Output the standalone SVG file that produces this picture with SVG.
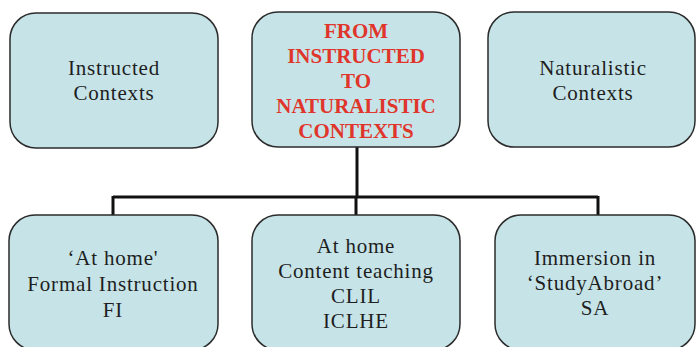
<svg xmlns="http://www.w3.org/2000/svg" width="696" height="347" viewBox="0 0 696 347">
<style>
.box{fill:#c6e4e8;stroke:#2b2b2b;stroke-width:1.5}
.t{font-family:"Liberation Serif","Times New Roman",serif;font-size:21px;fill:#1e1e1e;text-anchor:middle;letter-spacing:0.8px}
.h{font-family:"Liberation Serif","Times New Roman",serif;font-size:21px;font-weight:bold;fill:#e0352b;text-anchor:middle}
.c{stroke:#111;stroke-width:3;fill:none}
</style>
<rect width="696" height="347" fill="#ffffff"/>
<g id="connectors">
<path class="c" d="M357,147 V197 M113,197 H598 M113,196 V215 M356,197 V215 M598,196 V215"/>
</g>
<g id="instructed">
<rect class="box" x="10" y="13" width="208" height="135" rx="26"/>
<text class="t" x="114" y="75">Instructed</text>
<text class="t" x="114" y="100">Contexts</text>
</g>
<g id="title">
<rect class="box" x="252" y="12" width="208" height="135" rx="26"/>
<text class="h" x="356" y="38">FROM</text>
<text class="h" x="356" y="63">INSTRUCTED</text>
<text class="h" x="356" y="88">TO</text>
<text class="h" x="356" y="113">NATURALISTIC</text>
<text class="h" x="356" y="138">CONTEXTS</text>
</g>
<g id="naturalistic">
<rect class="box" x="488" y="12" width="207" height="135" rx="26"/>
<text class="t" x="593" y="75">Naturalistic</text>
<text class="t" x="593" y="100">Contexts</text>
</g>
<g id="fi">
<rect class="box" x="9" y="215" width="209" height="135" rx="26"/>
<text class="t" x="113" y="265">‘At home'</text>
<text class="t" x="113" y="291">Formal Instruction</text>
<text class="t" x="113" y="317">FI</text>
</g>
<g id="clil">
<rect class="box" x="252" y="215" width="208" height="135" rx="26"/>
<text class="t" x="356" y="253">At home</text>
<text class="t" x="356" y="278">Content teaching</text>
<text class="t" x="356" y="303">CLIL</text>
<text class="t" x="356" y="328">ICLHE</text>
</g>
<g id="sa">
<rect class="box" x="495" y="215" width="200" height="135" rx="26"/>
<text class="t" x="595" y="265">Immersion in</text>
<text class="t" x="595" y="290">‘StudyAbroad’</text>
<text class="t" x="595" y="315">SA</text>
</g>
</svg>
